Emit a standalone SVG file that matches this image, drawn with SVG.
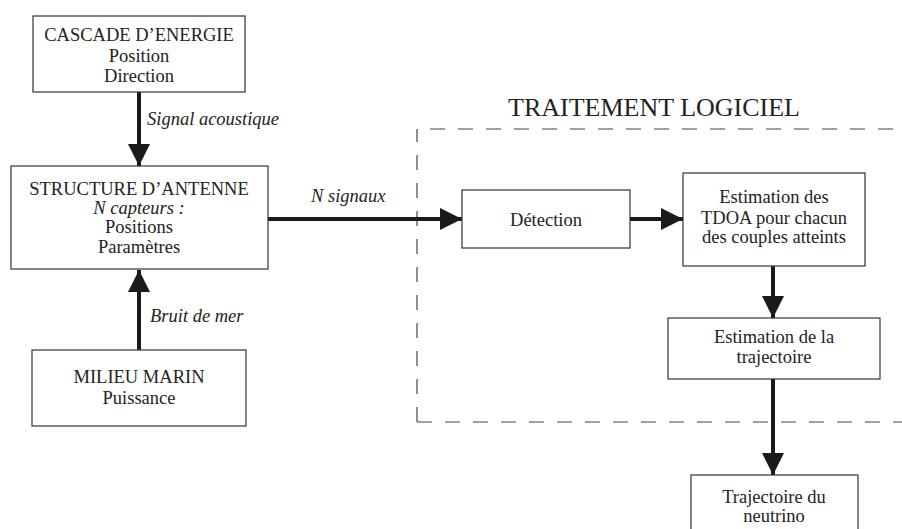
<svg xmlns="http://www.w3.org/2000/svg" width="902" height="529" viewBox="0 0 902 529">
<style>
.box{fill:#fff;stroke:#333;stroke-width:1.2}
.t{font-family:"Liberation Serif","Times New Roman",serif;font-size:18.5px;fill:#222;text-anchor:middle}
.i{font-style:italic}
.l{font-family:"Liberation Serif","Times New Roman",serif;font-size:18.5px;fill:#222;font-style:italic}
.c{stroke:#1a1a1a;stroke-width:4;fill:none}
.d{stroke:#444;stroke-width:1.2;fill:none;stroke-dasharray:15 13}
</style>
<defs>
<marker id="ah" viewBox="0 0 22 22" refX="22" refY="11" markerWidth="22" markerHeight="22" markerUnits="userSpaceOnUse" orient="auto">
<path d="M0,0 L22,11 L0,22 Z" fill="#1a1a1a"/>
</marker>
</defs>
<g id="region">
<path class="d" d="M417,422 L417,129 M417,422 L902,422 M893,129 L417,129"/>
<text x="654" y="116" style="font-family:'Liberation Serif','Times New Roman',serif;font-size:26px;fill:#222" text-anchor="middle">TRAITEMENT LOGICIEL</text>
</g>
<g id="connectors">
<line class="c" x1="139" y1="92" x2="139" y2="166" marker-end="url(#ah)"/>
<line class="c" x1="139" y1="350" x2="139" y2="270" marker-end="url(#ah)"/>
<line class="c" x1="268" y1="219" x2="462" y2="219" marker-end="url(#ah)"/>
<line class="c" x1="630" y1="219" x2="683" y2="219" marker-end="url(#ah)"/>
<line class="c" x1="773" y1="266" x2="773" y2="318" marker-end="url(#ah)"/>
<line class="c" x1="773" y1="379" x2="773" y2="475" marker-end="url(#ah)"/>
<text class="l" x="147" y="125">Signal acoustique</text>
<text class="l" x="150" y="322">Bruit de mer</text>
<text class="l" x="311" y="202">N signaux</text>
</g>
<g id="cascade">
<rect class="box" x="33" y="16" width="212" height="76"/>
<text class="t" x="139" y="41">CASCADE D’ENERGIE</text>
<text class="t" x="139" y="62">Position</text>
<text class="t" x="139" y="82">Direction</text>
</g>
<g id="structure">
<rect class="box" x="11" y="166" width="257" height="103"/>
<text class="t" x="139" y="195">STRUCTURE D’ANTENNE</text>
<text class="t i" x="139" y="214">N capteurs :</text>
<text class="t" x="139" y="233">Positions</text>
<text class="t" x="139" y="253">Paramètres</text>
</g>
<g id="milieu">
<rect class="box" x="32" y="350" width="214" height="76"/>
<text class="t" x="139" y="383">MILIEU MARIN</text>
<text class="t" x="139" y="404">Puissance</text>
</g>
<g id="detection">
<rect class="box" x="462" y="190" width="168" height="58"/>
<text class="t" x="546" y="226">Détection</text>
</g>
<g id="tdoa">
<rect class="box" x="683" y="173" width="182" height="93"/>
<text class="t" x="774" y="203">Estimation des</text>
<text class="t" x="774" y="224">TDOA pour chacun</text>
<text class="t" x="774" y="243">des couples atteints</text>
</g>
<g id="trajectoire">
<rect class="box" x="668" y="318" width="212" height="61"/>
<text class="t" x="774" y="343">Estimation de la</text>
<text class="t" x="774" y="363">trajectoire</text>
</g>
<g id="neutrino">
<rect class="box" x="691" y="475" width="167" height="60"/>
<text class="t" x="774" y="503">Trajectoire du</text>
<text class="t" x="774" y="522">neutrino</text>
</g>
</svg>
